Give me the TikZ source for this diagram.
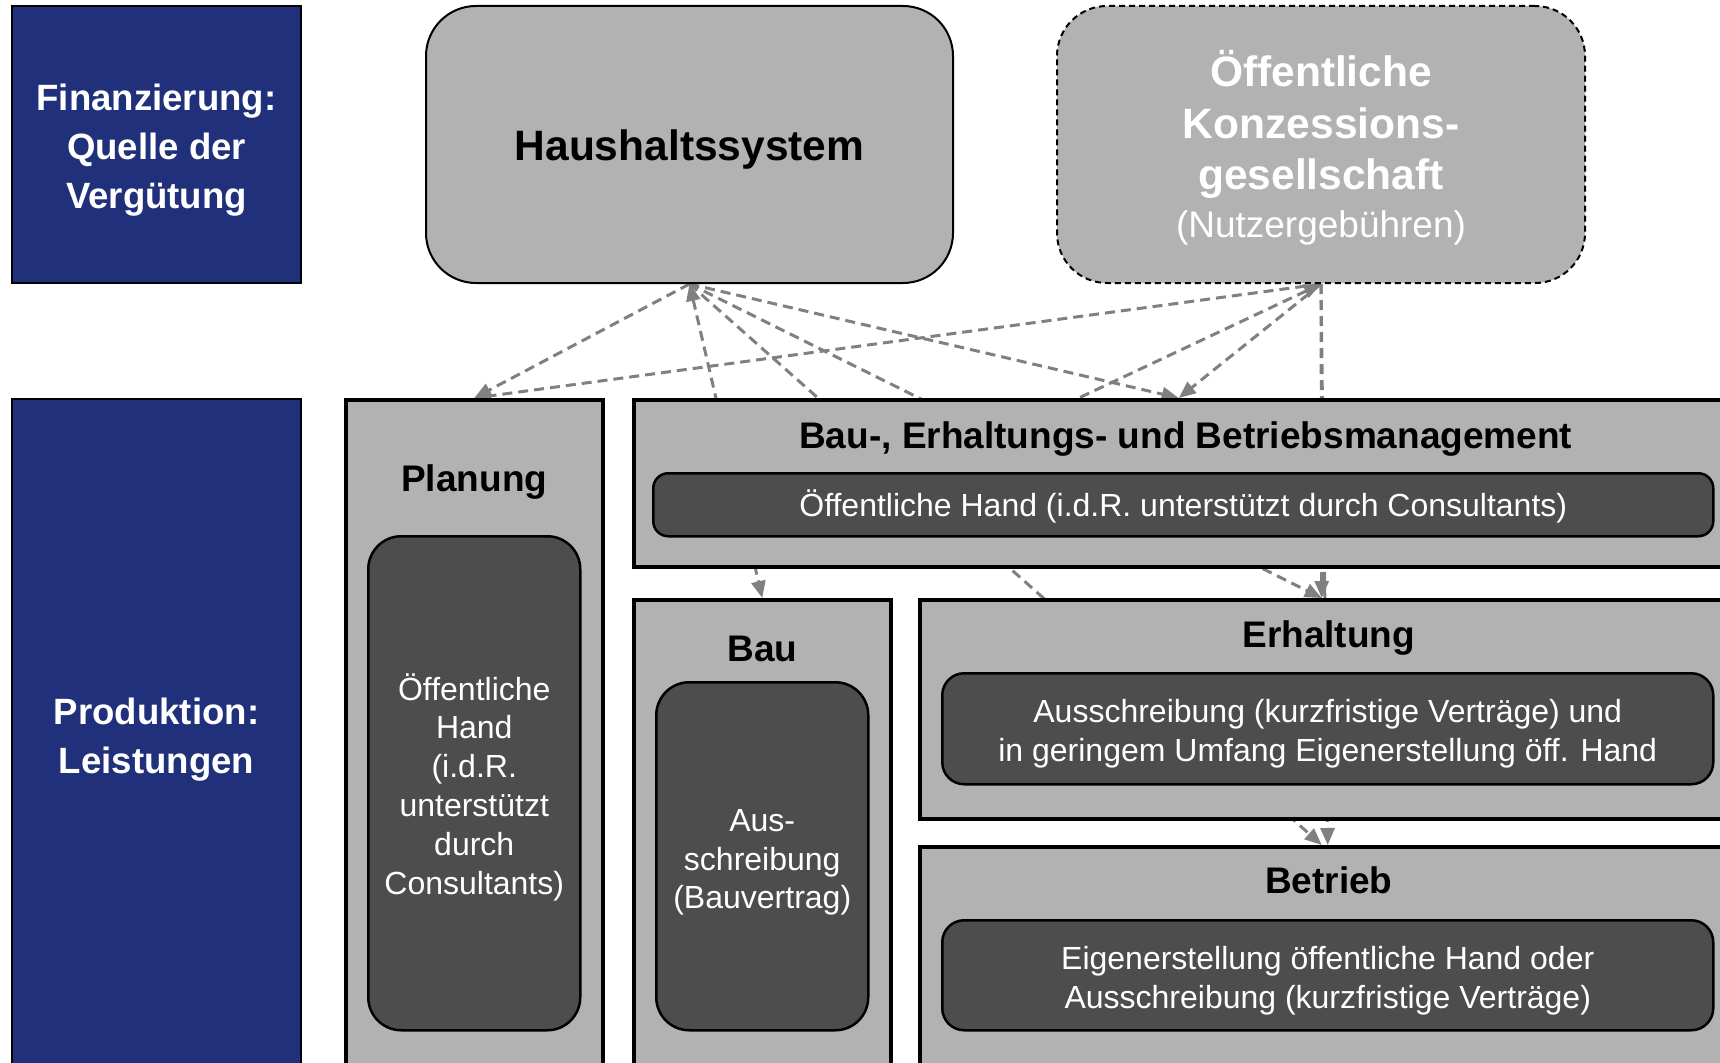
\documentclass[tikz,border=0pt]{standalone}
\usepackage{fontspec}
\setmainfont{Liberation Sans}
\usetikzlibrary{arrows.meta,calc}
\definecolor{finblue}{RGB}{32,48,122}
\definecolor{boxgray}{RGB}{178,178,178}
\definecolor{innergray}{RGB}{77,77,77}
\definecolor{flowgray}{RGB}{128,128,128}
\newcommand\fontSource{\fontsize{42.5}{51.6}\selectfont\bfseries}
\newcommand\fontTitle{\fontsize{37}{44}\selectfont\bfseries}
\newcommand\fontSide{\fontsize{36.6}{49}\selectfont\bfseries}
\newcommand\fontBody{\fontsize{32}{38.8}\selectfont}
\newcommand\firststrut[1]{\rule{0pt}{#1pt}}
\pgfdeclarelayer{bg}
\pgfsetlayers{bg,main}
\tikzset{
  sidebox/.style={draw=black, line width=2pt, fill=finblue, text=white, font=\fontSide, align=center, anchor=north west, inner sep=0pt},
  srcbox/.style={draw=black, line width=2pt, fill=boxgray, rounded corners=50pt, align=center, anchor=north west, inner sep=0pt},
  outerbox/.style={draw=black, line width=3.5pt, fill=boxgray, anchor=north west, inner sep=0pt},
  innerbox/.style={draw=black, line width=2.5pt, fill=innergray, text=white, font=\fontBody, align=center, anchor=north west, inner sep=0pt},
  boxtitle/.style={font=\fontTitle, anchor=base, inner sep=0pt},
  flow/.style={draw=flowgray, line width=3pt, dash pattern=on 10pt off 6pt},
}
\begin{document}
\begin{tikzpicture}[x=1pt, y=-1pt, >={Triangle[length=17pt,width=14pt]}]
    %%%%% START %%%%%
    \useasboundingbox (0,0) rectangle (1720,1062);
    \clip (0,0) rectangle (1720,1062);

    % Finanzierung
    \node[sidebox, minimum width=289pt, minimum height=277pt] (fin) at (11,5) {\firststrut{38}Finanzierung:\\Quelle der\\Vergütung};
    \node[srcbox, minimum width=527pt, minimum height=277pt, font=\fontSource] (hh) at (425,5) {\firststrut{41}Haushaltssystem};
    \node[srcbox, dash pattern=on 6pt off 4pt, minimum width=528pt, minimum height=277pt, text=white, font=\fontSource] (kon) at (1056,5)
        {\firststrut{43}Öffentliche\\Konzessions-\\gesellschaft\\[-4pt]{\fontsize{37}{44}\selectfont\mdseries (Nutzergebühren)}};

    % Produktion
    \node[sidebox, minimum width=289pt, minimum height=672pt] (prod) at (11,398) {\firststrut{36}Produktion:\\Leistungen};

    \node[outerbox, minimum width=257pt, minimum height=690pt] (plan) at (344,398) {};
    \node[outerbox, minimum width=1090pt, minimum height=167pt] (mgmt) at (632,398) {};
    \node[outerbox, minimum width=257pt, minimum height=490pt] (bau) at (632,598) {};
    \node[outerbox, minimum width=804pt, minimum height=219pt] (erh) at (918,598) {};
    \node[outerbox, minimum width=804pt, minimum height=240pt] (betr) at (918,845) {};

    \node[boxtitle] (planttl) at ($(plan.north)+(0,93)$) {Planung};
    \node[boxtitle] (mgmtttl) at ($(mgmt.north)+(7,50)$) {Bau-, Erhaltungs- und Betriebsmanagement};
    \node[boxtitle] (bauttl) at ($(bau.north)+(0,63)$) {Bau};
    \node[boxtitle] (erhttl) at ($(erh.north)+(7,49)$) {Erhaltung};
    \node[boxtitle] (betrttl) at ($(betr.north)+(7,48)$) {Betrieb};

    \node[innerbox, rounded corners=33pt, minimum width=212pt, minimum height=494pt] (planin) at (367,535)
        {\firststrut{34.5}Öffentliche\\Hand\\(i.d.R.\\unterstützt\\durch\\Consultants)};
    \node[innerbox, rounded corners=15pt, minimum width=1060pt, minimum height=63pt] (mgmtin) at (652,472)
        {\firststrut{30.5}Öffentliche Hand (i.d.R. unterstützt durch Consultants)};
    \node[innerbox, rounded corners=33pt, minimum width=212pt, minimum height=348pt] (bauin) at (655,681)
        {\firststrut{34.5}Aus-\\schreibung\\(Bauvertrag)};
    \node[innerbox, rounded corners=22pt, minimum width=771pt, minimum height=111pt] (erhin) at (941,672)
        {\firststrut{33}Ausschreibung (kurzfristige Verträge) und\\in geringem Umfang Eigenerstellung öff. Hand};
    \node[innerbox, rounded corners=22pt, minimum width=771pt, minimum height=110pt] (betrin) at (941,919)
        {\firststrut{34}Eigenerstellung öffentliche Hand oder\\Ausschreibung (kurzfristige Verträge)};

    % Verbindungen hinter den Kästen
    \coordinate (mgmtleft) at ($(mgmt.north)+(-100,0)$);
    \begin{pgfonlayer}{bg}
        \draw[flow, ->] (hh.south) -- (plan.north);
        \draw[flow, ->] (kon.south) -- (plan.north);
        \draw[flow, <->] (hh.south) -- (bau.north);
        \draw[flow, ->] (hh.south) -- (mgmt.north);
        \draw[flow, ->] (hh.south) -- (erh.north);
        \draw[flow, ->] (hh.south) -- (betr.north);
        \draw[flow, ->] (kon.south) -- (mgmt.north);
        \draw[flow, ->] (kon.south) -- (erh.north);
        \draw[flow, ->] (kon.south) -- ($(betr.north)+(6,0)$);
        \draw[flow, <-] (kon.south) -- (mgmtleft);
    \end{pgfonlayer}
    %%%%% END %%%%%
\end{tikzpicture}
\end{document}
